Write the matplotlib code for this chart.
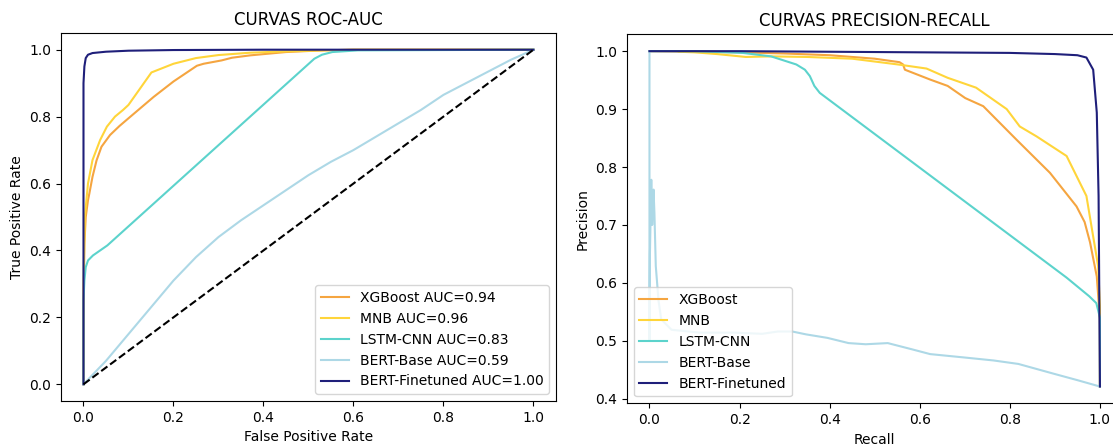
import matplotlib.pyplot as plt

models = ["XGBoost", "MNB", "LSTM-CNN", "BERT-Base", "BERT-Finetuned"]
colors = ["#F5A540", "#FFD53A", "#5CD3CC", "#ADD8E6", "#1F1F7A"]
aucs = [0.94, 0.96, 0.83, 0.59, 1.00]

# ROC curves
fpr_xgb = [0, 0.0, 0.002, 0.005, 0.01, 0.013, 0.02, 0.029, 0.04, 0.059, 0.08, 0.1, 0.156, 0.2, 0.252, 0.267, 0.307, 0.33, 0.37, 0.45, 0.53, 0.6, 1.0]
tpr_xgb = [0, 0.2, 0.42, 0.5, 0.55, 0.57, 0.62, 0.669, 0.71, 0.745, 0.772, 0.795, 0.859, 0.905, 0.952, 0.958, 0.968, 0.976, 0.983, 0.993, 0.998, 1.0, 1.0]

fpr_mnb = [0, 0.0, 0.003, 0.01, 0.02, 0.037, 0.052, 0.07, 0.088, 0.1, 0.151, 0.2, 0.25, 0.3, 0.37, 0.45, 0.6, 1.0]
tpr_mnb = [0, 0.3, 0.5, 0.6, 0.67, 0.73, 0.77, 0.80, 0.82, 0.835, 0.932, 0.958, 0.975, 0.984, 0.991, 0.995, 1.0, 1.0]

fpr_lstm = [0, 0.0, 0.002, 0.005, 0.01, 0.021, 0.053, 0.513, 0.53, 0.553, 0.61, 1.0]
tpr_lstm = [0, 0.25, 0.31, 0.35, 0.37, 0.385, 0.415, 0.973, 0.985, 0.993, 0.998, 1.0]

fpr_base = [0, 0.025, 0.05, 0.075, 0.1, 0.15, 0.2, 0.25, 0.3, 0.35, 0.4, 0.45, 0.5, 0.55, 0.6, 0.65, 0.7, 0.75, 0.8, 0.85, 0.9, 0.95, 1.0]
tpr_base = [0, 0.035, 0.07, 0.11, 0.15, 0.23, 0.31, 0.38, 0.44, 0.49, 0.535, 0.58, 0.625, 0.665, 0.70, 0.74, 0.78, 0.82, 0.865, 0.90, 0.935, 0.97, 1.0]

fpr_ft = [0, 0.0, 0.002, 0.005, 0.01, 0.02, 0.05, 0.1, 0.2, 0.4, 1.0]
tpr_ft = [0, 0.9, 0.95, 0.975, 0.985, 0.99, 0.994, 0.997, 0.999, 1.0, 1.0]

# Precision-recall curves
rec_xgb = [0.0, 0.1, 0.2, 0.3, 0.4, 0.5, 0.555, 0.563, 0.567, 0.623, 0.662, 0.701, 0.741, 0.815, 0.889, 0.948, 0.966, 0.978, 0.993, 1.0, 1.0]
prec_xgb = [1.0, 0.999, 0.998, 0.996, 0.993, 0.987, 0.981, 0.977, 0.968, 0.951, 0.94, 0.919, 0.905, 0.847, 0.79, 0.732, 0.705, 0.67, 0.611, 0.537, 0.421]

rec_mnb = [0.065, 0.1, 0.15, 0.214, 0.27, 0.35, 0.45, 0.552, 0.615, 0.662, 0.725, 0.793, 0.822, 0.859, 0.926, 0.97, 0.985, 0.996, 1.0, 1.0]
prec_mnb = [0.999, 0.998, 0.995, 0.99, 0.991, 0.99, 0.987, 0.977, 0.97, 0.954, 0.937, 0.9, 0.87, 0.853, 0.819, 0.75, 0.68, 0.629, 0.56, 0.421]

rec_lstm = [0.0, 0.1, 0.207, 0.27, 0.326, 0.345, 0.356, 0.366, 0.378, 0.926, 0.976, 0.992, 1.0, 1.0]
prec_lstm = [1.0, 1.0, 0.997, 0.991, 0.977, 0.968, 0.957, 0.94, 0.928, 0.609, 0.577, 0.565, 0.54, 0.421]

rec_base = [0.0, 0.0, 0.001, 0.004, 0.006, 0.009, 0.011, 0.014, 0.02, 0.026, 0.049, 0.112, 0.19, 0.25, 0.285, 0.317, 0.348, 0.395, 0.442, 0.48, 0.529, 0.584, 0.623, 0.701, 0.764, 0.819, 0.898, 0.95, 1.0]
prec_base = [1.0, 0.5, 0.65, 0.778, 0.7, 0.761, 0.72, 0.629, 0.57, 0.537, 0.519, 0.514, 0.514, 0.512, 0.516, 0.516, 0.511, 0.505, 0.496, 0.494, 0.496, 0.485, 0.477, 0.471, 0.466, 0.46, 0.443, 0.432, 0.421]

rec_ft = [0.0, 0.2, 0.4, 0.6, 0.8, 0.9, 0.95, 0.97, 0.985, 0.993, 0.997, 1.0]
prec_ft = [1.0, 1.0, 0.999, 0.998, 0.997, 0.995, 0.993, 0.989, 0.968, 0.894, 0.75, 0.421]

roc = [(fpr_xgb, tpr_xgb), (fpr_mnb, tpr_mnb), (fpr_lstm, tpr_lstm), (fpr_base, tpr_base), (fpr_ft, tpr_ft)]
pr = [(rec_xgb, prec_xgb), (rec_mnb, prec_mnb), (rec_lstm, prec_lstm), (rec_base, prec_base), (rec_ft, prec_ft)]

fig = plt.figure(figsize=(11.13, 4.45), dpi=100)
ax1 = fig.add_axes([0.0548, 0.0989, 0.4447, 0.827])
ax2 = fig.add_axes([0.5633, 0.0937, 0.4452, 0.829])

for name, c, auc, (x, y) in zip(models, colors, aucs, roc):
    ax1.plot(x, y, color=c, label=f"{name} AUC={auc:.2f}")
ax1.plot([0, 1], [0, 1], "k--")
ax1.set_xlabel("False Positive Rate")
ax1.set_ylabel("True Positive Rate")
ax1.set_title("CURVAS ROC-AUC")
ax1.legend(loc="lower right")

for name, c, (x, y) in zip(models, colors, pr):
    ax2.plot(x, y, color=c, label=name)
ax2.set_xlabel("Recall")
ax2.set_ylabel("Precision")
ax2.set_title("CURVAS PRECISION-RECALL")
ax2.legend(loc="lower left")

fig.savefig("out.png", dpi=100)
plt.close(fig)
